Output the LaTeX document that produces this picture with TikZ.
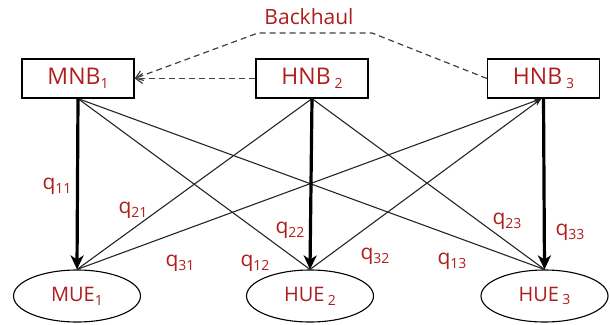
\documentclass[tikz,border=0pt]{standalone}
\usepackage{fontspec}
\setmainfont{Open Sans}
\usetikzlibrary{arrows.meta,shapes.geometric}
\definecolor{lblred}{RGB}{175,30,30}
\newcommand\subidx[1]{\raisebox{-0.35ex}{\fontsize{14}{15}\selectfont #1}}
\newcommand\qlab[1]{q\subidx{#1}}
\tikzset{
  station/.style={draw, line width=1.2pt, minimum width=112pt, minimum height=39pt,
    inner sep=0pt, text=lblred, font=\fontsize{23}{26}\selectfont},
  terminal/.style={draw, ellipse, line width=1.1pt, minimum width=127pt, minimum height=52pt,
    inner sep=0pt, text=lblred, font=\fontsize{20}{22}\selectfont},
  direct/.style={line width=3.2pt, -{Stealth[length=14pt,width=13pt,inset=4pt]}},
  cross/.style={line width=1.1pt, draw=black!85},
  crossup/.style={cross, -{Stealth[length=8pt,width=6pt]}},
  backhaul/.style={line width=1.2pt, draw=black!75, dash pattern=on 6pt off 4pt,
    -{Straight Barb[length=7pt,width=10pt]}},
  gain/.style={text=lblred, font=\fontsize{21}{23}\selectfont, inner sep=0pt}
}
\begin{document}
\begin{tikzpicture}[x=1pt,y=-1pt]
\useasboundingbox (0,0) rectangle (610,324);

% base stations
\node[station] (mnb) at (78,78.5) {MNB\subidx{1}};
\node[station] (hnb2) at (312,78.5) {HNB\,\subidx{2}};
\node[station] (hnb3) at (543.5,78.5) {HNB\,\subidx{3}};

% user equipments
\node[terminal] (mue) at (77,296) {MUE\subidx{1}};
\node[terminal] (hue2) at (310,296) {HUE\,\subidx{2}};
\node[terminal] (hue3) at (544.5,296) {HUE\,\subidx{3}};

% backhaul links
\coordinate (bhR) at (372,33);
\coordinate (bhL) at (258,33);
\node[text=lblred, font=\fontsize{21}{23}\selectfont, inner sep=0pt] (bhlabel) at (309,17) {Backhaul};
\draw[backhaul] (hnb3.west) -- (bhR) -- (bhL) -- (mnb.east);
\draw[backhaul] (hnb2.west) -- (mnb.east);

% cross links
\draw[cross] (mnb.south) -- (hue2.north);
\draw[cross] (mnb.south) -- (hue3.north);
\draw[cross] (hnb2.south) -- (mue.north);
\draw[cross] (hnb2.south) -- (hue3.north);
\draw[crossup] (mue.north) -- ([xshift=-2pt]hnb3.south);
\draw[crossup] (hue2.north) -- ([xshift=-2pt]hnb3.south);

% direct links
\draw[direct] (mnb.south) -- (mue.north);
\draw[direct] (hnb2.south) -- (hue2.north);
\draw[direct] (hnb3.south) -- (hue3.north);

% channel gains
\node[gain] (q11) at (57,186) {\qlab{11}};
\node[gain] (q21) at (133,210) {\qlab{21}};
\node[gain] (q31) at (180,263) {\qlab{31}};
\node[gain] (q12) at (255,263) {\qlab{12}};
\node[gain] (q22) at (290,230) {\qlab{22}};
\node[gain] (q32) at (375,256) {\qlab{32}};
\node[gain] (q13) at (452,261) {\qlab{13}};
\node[gain] (q23) at (507,221) {\qlab{23}};
\node[gain] (q33) at (570,232) {\qlab{33}};
\end{tikzpicture}
\end{document}
